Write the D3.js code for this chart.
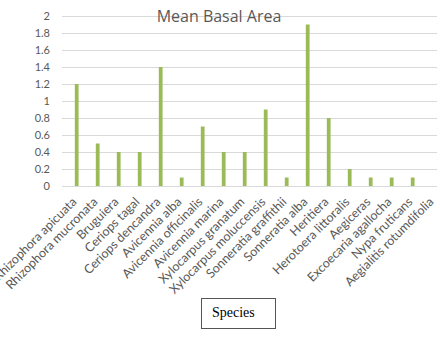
<!DOCTYPE html>
<html>
<head>
<meta charset="utf-8">
<script src="https://cdn.jsdelivr.net/npm/d3@7"></script>
<style>
html,body{margin:0;padding:0;background:#fff;}
svg{display:block;}
</style>
</head>
<body>
<svg id="chart" width="440" height="341"></svg>
<script>
const species = ["Rhizophora apicuata","Rhizophora mucronata","Bruguiera","Ceriops tagal","Ceriops dencandra","Avicennia alba","Avicennia officinalis","Avicennia marina","Xylocarpus granatum","Xylocarpus moluccensis","Sonneratia graffithii","Sonneratia alba","Heritiera","Herotoera  littoralis","Aegiceras","Excoecaria  agallocha","Nypa fruticans","Aegialitis rotumdifolia"];
const basalArea = [1.2,0.5,0.4,0.4,1.4,0.1,0.7,0.4,0.4,0.9,0.1,1.9,0.8,0.2,0.1,0.1,0.1,0];
const yTicks = [0,0.2,0.4,0.6,0.8,1,1.2,1.4,1.6,1.8,2];
const title = "Mean Basal Area";
const axisTitle = "Species";

const svg = d3.select("#chart");
const x = d3.scaleBand().domain(species).range([66.2, 444.2]).paddingInner(0.82).paddingOuter(0.41);
const y = d3.scaleLinear().domain([0, 2]).range([186, 16]);
const gridX0 = 62, gridX1 = 437;

// gridlines
svg.append("g").selectAll("line").data(yTicks).join("line")
  .attr("x1", gridX0).attr("x2", gridX1)
  .attr("y1", d => Math.round(y(d)) + 0.5).attr("y2", d => Math.round(y(d)) + 0.5)
  .attr("stroke", "#d9d9d9").attr("stroke-width", 1);

// y labels
const yAxis = d3.axisLeft(y).tickValues(yTicks).tickSize(0).tickPadding(0).tickFormat(d => String(d));
const gy = svg.append("g").attr("transform", "translate(50,0)").call(yAxis);
gy.select(".domain").remove();
gy.selectAll("text").attr("font-family", "Lato, 'Open Sans', sans-serif").attr("font-size", 11).attr("fill", "#595959");

// bars
svg.append("g").selectAll("rect").data(species).join("rect")
  .attr("x", d => x(d))
  .attr("width", x.bandwidth())
  .attr("y", (d, i) => y(basalArea[i]))
  .attr("height", (d, i) => y(0) - y(basalArea[i]))
  .attr("fill", "#9bbb59");

// x labels
const xAxis = d3.axisBottom(x).tickSize(0).tickPadding(0);
const gx = svg.append("g").attr("transform", "translate(0,186)").call(xAxis);
gx.select(".domain").remove();
gx.selectAll("text")
  .attr("font-family", "Lato, 'Open Sans', sans-serif").attr("font-size", 12.5)
  .attr("fill", "#595959")
  .attr("text-anchor", "end")
  .attr("dy", "0.3em")
  .attr("transform", "translate(-2,14) rotate(-45)");

// title
svg.append("text").attr("x", 219).attr("y", 22).attr("text-anchor", "middle")
  .attr("font-family", "'Open Sans', Lato, sans-serif").attr("font-size", 16)
  .attr("fill", "#595959").text(title);

// species box
svg.append("rect").attr("x", 201.5).attr("y", 298.5).attr("width", 74).attr("height", 30)
  .attr("fill", "#fff").attr("stroke", "#555").attr("stroke-width", 1);
svg.append("text").attr("x", 212).attr("y", 317).attr("font-family", "'Liberation Serif', 'Times New Roman', serif")
  .attr("font-size", 14).attr("fill", "#000").text(axisTitle);
</script>
</body>
</html>
